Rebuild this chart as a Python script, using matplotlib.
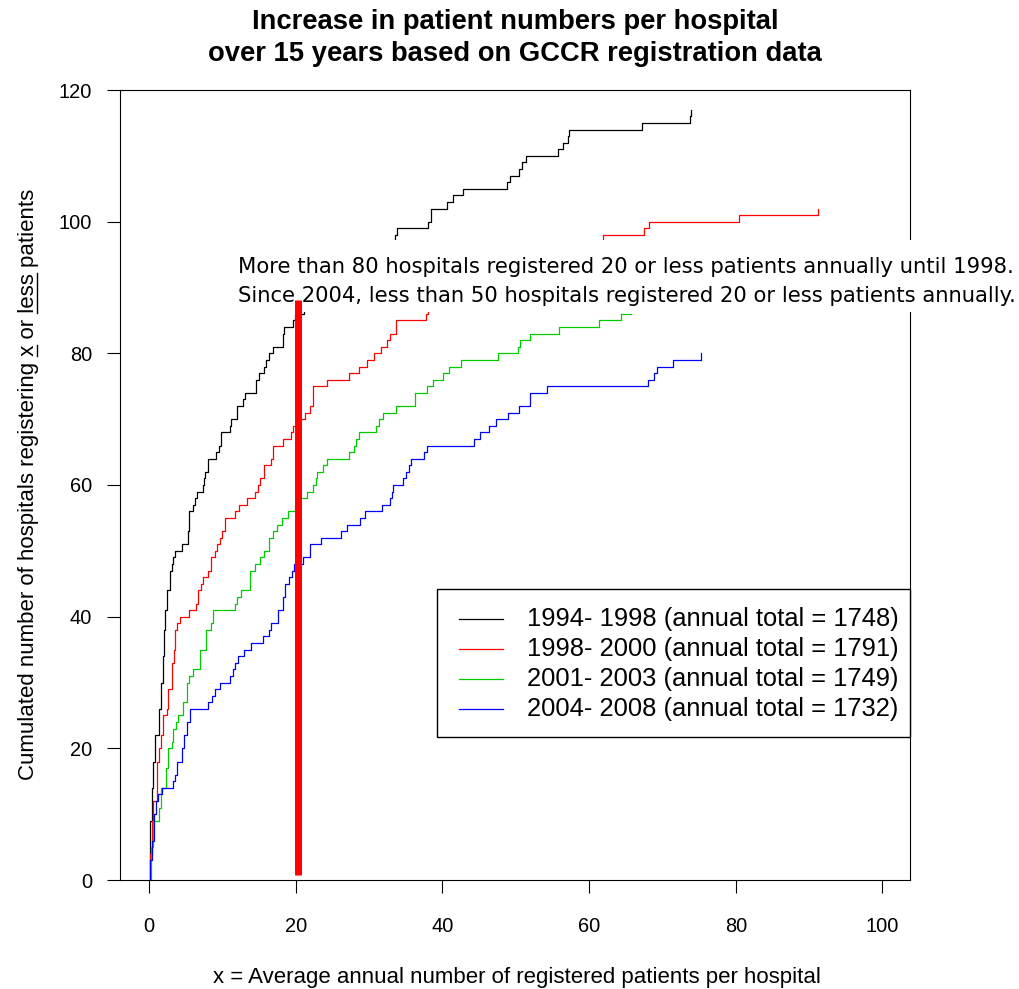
import numpy as np
import matplotlib
matplotlib.use("Agg")
import matplotlib.pyplot as plt
from matplotlib.patches import Rectangle
from matplotlib.lines import Line2D
from matplotlib.font_manager import FontProperties

plt.rcParams['font.family'] = 'Liberation Sans'

# periods shown in the legend
periods = ["1994- 1998", "1998- 2000", "2001- 2003", "2004- 2008"]
annual_totals = [1748, 1791, 1749, 1732]
line_colors = ["black", "#FF0000", "#00CD00", "#0000FF"]

# step positions (average annual patients) and cumulated number of hospitals
x_9498 = [0.1, 0.45, 0.6, 0.85, 1.4, 1.6, 1.85, 2.0, 2.2, 2.5, 2.9, 3.1, 3.3, 3.6, 4.45,
          5.3, 5.5, 6.0, 6.3, 6.5, 7.3, 7.5, 7.7, 8.0, 9.1, 9.5, 9.8, 11.0, 11.2, 12.0,
          12.8, 13.1, 14.6, 15.0, 15.7, 15.9, 16.4, 16.9, 18.3, 18.4, 19.6, 19.9, 21.2,
          24.0, 27.0, 30.0, 32.0, 33.6, 33.8, 38.0, 38.5, 40.6, 41.4, 42.8, 48.8, 49.2,
          50.4, 50.9, 51.4, 55.7, 56.5, 57.1, 57.3, 67.2, 73.7, 73.9]
n_9498 = [9, 14, 18, 22, 26, 30, 34, 38, 41, 44, 47, 48, 49, 50, 51, 53, 56, 57, 58, 59,
          60, 61, 62, 64, 65, 66, 68, 69, 70, 72, 73, 74, 76, 77, 78, 79, 80, 81, 83, 84,
          85, 86, 88, 90, 92, 94, 96, 98, 99, 100, 102, 103, 104, 105, 106, 107, 108, 109,
          110, 111, 112, 113, 114, 115, 116, 117]

x_9800 = [0.15, 0.4, 0.6, 1.04, 1.4, 1.64, 1.95, 2.41, 2.64, 3.1, 3.4, 3.55, 3.86, 4.2,
          5.4, 6.4, 6.7, 7.05, 7.4, 8.1, 8.4, 9.0, 9.3, 9.7, 10.0, 10.4, 11.7, 12.3, 13.3,
          14.5, 14.8, 15.2, 15.7, 16.7, 16.9, 18.3, 19.3, 19.7, 20.3, 21.3, 21.9, 22.3,
          24.3, 27.3, 28.7, 29.7, 30.7, 31.7, 32.4, 32.9, 33.7, 37.8, 38.1, 41.0, 45.0,
          49.0, 53.0, 57.0, 61.9, 67.5, 68.2, 80.5, 91.2]
n_9800 = [4, 9, 12, 18, 20, 22, 25, 26, 29, 33, 35, 38, 39, 40, 41, 42, 44, 45, 46, 47,
          49, 50, 51, 52, 53, 55, 56, 57, 58, 59, 60, 61, 63, 64, 66, 67, 68, 69, 70, 71,
          72, 75, 76, 77, 78, 79, 80, 81, 82, 83, 85, 86, 88, 90, 92, 94, 95, 96, 98, 99,
          100, 101, 102]

x_0103 = [0.3, 0.5, 1.4, 1.64, 2.3, 2.64, 3.1, 3.32, 3.68, 4.0, 4.68, 5.14, 5.5, 5.95,
          6.95, 7.77, 8.4, 8.7, 11.7, 11.95, 12.6, 13.8, 14.5, 15.2, 15.7, 16.4, 16.9,
          17.4, 18.2, 19.0, 19.9, 20.4, 21.6, 22.3, 22.8, 22.95, 23.7, 24.3, 27.3, 27.96,
          28.2, 28.7, 31.0, 31.3, 31.95, 33.7, 36.3, 37.96, 38.7, 40.05, 40.95, 42.6,
          47.6, 50.3, 50.6, 51.95, 55.95, 61.3, 64.3, 65.7]
n_0103 = [5, 9, 11, 14, 17, 20, 21, 23, 24, 25, 27, 30, 31, 32, 35, 38, 39, 41, 42, 43,
          44, 47, 48, 49, 50, 52, 53, 54, 55, 56, 57, 58, 59, 60, 61, 62, 63, 64, 65, 66,
          67, 68, 69, 70, 71, 72, 74, 75, 76, 77, 78, 79, 80, 81, 82, 83, 84, 85, 86, 86]

x_0408 = [0.14, 0.36, 0.73, 0.95, 1.27, 1.73, 3.23, 3.55, 3.77, 4.46, 4.77, 5.23, 5.59,
          8.0, 8.55, 9.0, 9.68, 11.04, 11.4, 11.7, 12.2, 12.9, 13.9, 15.5, 16.4, 16.7,
          17.6, 18.3, 18.5, 19.1, 19.45, 19.8, 20.95, 21.95, 23.5, 26.2, 26.95, 28.8,
          29.4, 31.8, 32.8, 33.1, 33.3, 34.6, 35.1, 35.4, 35.7, 37.5, 37.96, 44.3, 45.1,
          46.4, 47.3, 48.9, 50.5, 51.95, 54.3, 68.08, 68.85, 69.3, 71.5, 75.3]
n_0408 = [3, 6, 10, 12, 13, 14, 15, 16, 18, 20, 22, 24, 26, 27, 28, 29, 30, 31, 32, 33,
          34, 35, 36, 37, 38, 39, 41, 43, 45, 46, 47, 48, 49, 51, 52, 53, 54, 55, 56, 57,
          58, 59, 60, 61, 62, 63, 64, 65, 66, 67, 68, 69, 70, 71, 72, 74, 75, 76, 77, 78,
          79, 80]

steps_x = [x_9498, x_9800, x_0103, x_0408]
steps_n = [n_9498, n_9800, n_0103, n_0408]

# 20 patients cut-off bar
cutoff_x = 20.35
cutoff_from, cutoff_to = 0.7, 88.1

title_lines = ["Increase in patient numbers per hospital",
               "over 15 years based on GCCR registration data"]
note_lines = ["More than 80 hospitals registered 20 or less patients annually until 1998.",
              "Since 2004, less than 50 hospitals registered 20 or less patients annually."]
xlabel = "x = Average annual number of registered patients per hospital"
ylabel = "Cumulated number of hospitals registering x or less patients"

FIG_W, FIG_H = 1019, 989


def fx(px):
    return px / FIG_W


def fy(py):
    return 1 - py / FIG_H


fig = plt.figure(figsize=(FIG_W / 100, FIG_H / 100), dpi=100)
ax = fig.add_axes([fx(120), fy(880), (910 - 120) / FIG_W, (880 - 90) / FIG_H])

for xs, ns, c in zip(steps_x, steps_n, line_colors):
    xs = np.asarray(xs)
    ns = np.asarray(ns)
    ax.step(np.r_[xs[0], xs], np.r_[0, ns], where='post', color=c, lw=0.9, zorder=2)

ax.set_xlim(-3.95, 103.75)
ax.set_ylim(0, 120)
ax.set_xticks(np.arange(0, 101, 20))
ax.set_yticks(np.arange(0, 121, 20))
ax.tick_params(axis='both', direction='out', length=9.3, width=0.8, labelsize=14.4)
ax.tick_params(axis='x', pad=17)
ax.tick_params(axis='y', pad=10.8)
for s in ax.spines.values():
    s.set_linewidth(0.8)

# white box behind the note (hides the curves)
ax.add_patch(Rectangle((11.3, 86.28), 108, 10.94, facecolor='white',
                       edgecolor='none', zorder=3, clip_on=False))
for i, line in enumerate(note_lines):
    ax.text(12.13, 92.21 - i * 4.405, line, family='DejaVu Sans', fontsize=15.2,
            va='baseline', zorder=4)

ax.plot([cutoff_x, cutoff_x], [cutoff_from, cutoff_to], color='#FF0000', lw=5,
        solid_capstyle='butt', zorder=5)

# legend box
ax.add_patch(Rectangle((39.26, 21.68), 103.75 - 39.26, 44.16 - 21.68, facecolor='white',
                       edgecolor='black', lw=1.0, zorder=4, clip_on=False))
for i, (p, tot, c) in enumerate(zip(periods, annual_totals, line_colors)):
    yb = 38.58 - i * 4.557
    ax.plot([42.26, 48.26], [yb + 1.06, yb + 1.06], color=c, lw=0.9, zorder=5)
    ax.text(51.53, yb, f"{p} (annual total = {tot})", fontsize=18.4,
            va='baseline', zorder=5)

# titles and axis labels
for i, t in enumerate(title_lines):
    fig.text(fx(515), fy(29 + 32 * i), t, ha='center', va='baseline',
             fontsize=19.7, fontweight='bold')

fig.text(fx(516.5), fy(983), xlabel, ha='center', va='baseline', fontsize=16)

yl_x, yl_y = 34.5, 484.5
fig.text(fx(yl_x), fy(yl_y), ylabel, rotation=90, rotation_mode='anchor',
         ha='center', va='baseline', fontsize=16)

# underline "x" and "less" in the y label
renderer = fig.canvas.get_renderer()
prop = FontProperties(family='Liberation Sans', size=16)


def text_w(s):
    return renderer.get_text_width_height_descent(s, prop, ismath=False)[0]


total_w = text_w(ylabel)
start = (FIG_H - yl_y) - total_w / 2
for i0, word in [(ylabel.index(" x ") + 1, "x"), (ylabel.index("less"), "less")]:
    b = text_w(ylabel[:i0] + word)
    a = b - text_w(word)
    fig.add_artist(Line2D([fx(yl_x + 2.6), fx(yl_x + 2.6)],
                          [(start + a) / FIG_H, (start + b) / FIG_H],
                          color='black', lw=1.0))

fig.savefig('out.png', dpi=100)
